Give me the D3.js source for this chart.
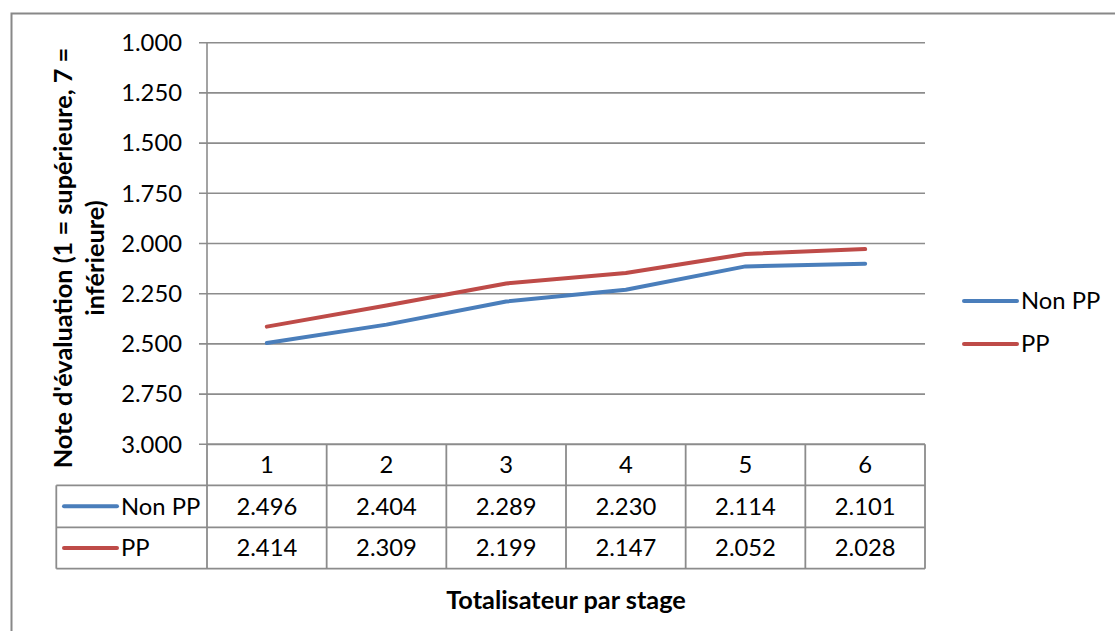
<!DOCTYPE html>
<html><head><meta charset="utf-8">
<script src="https://cdn.jsdelivr.net/npm/d3@7"></script>
<style>body{margin:0;background:#fff;}svg{display:block;font-family:Lato,"Open Sans",sans-serif;}</style>
</head><body>
<svg id="c" width="1115" height="631"></svg>
<script>
const categories = ["1","2","3","4","5","6"];
const seriesNames = ["Non PP","PP"];
const nonPP = [2.496,2.404,2.289,2.230,2.114,2.101];
const pp = [2.414,2.309,2.199,2.147,2.052,2.028];
const yTicks = [1.0,1.25,1.5,1.75,2.0,2.25,2.5,2.75,3.0];
const colors = ["#4a7ebb","#be4b48"];
const series = [nonPP, pp];

const FS = 23.8, FSB = 25.3;
const svg = d3.select("#c");
const L=207, R=925, T=42.7, B=444.3;
const grid="#8c8c8c";
// outer border
svg.append("path").attr("d","M11.5,631 L11.5,13.5 L1115,13.5").attr("fill","none").attr("stroke","#888").attr("stroke-width",2);

const x = d3.scaleBand().domain(categories).range([L,R]);
const y = d3.scaleLinear().domain([1,3]).range([T,B]);
const fmt = d3.format(".3f");

// gridlines
svg.append("g").selectAll("line").data(yTicks).join("line")
  .attr("x1",L-8).attr("x2",R).attr("y1",d=>y(d)).attr("y2",d=>y(d))
  .attr("stroke",grid).attr("stroke-width",1.6);
svg.append("line").attr("x1",L).attr("x2",L).attr("y1",T).attr("y2",B).attr("stroke",grid).attr("stroke-width",1.6);
// y tick labels
svg.append("g").selectAll("text").data(yTicks).join("text")
  .attr("x",182).attr("y",d=>y(d)).attr("dy","0.35em").attr("text-anchor","end")
  .attr("font-size",FS).attr("fill","#000").text(d=>fmt(d));

// lines
const line = d3.line().x((d,i)=>x(categories[i])+x.bandwidth()/2).y(d=>y(d));
series.forEach((s,k)=>{
  svg.append("path").datum(s).attr("d",line).attr("fill","none")
    .attr("stroke",colors[k]).attr("stroke-width",4).attr("stroke-linecap","round").attr("stroke-linejoin","round");
});

// data table
const rowY=[444.3,485.3,527.3,568.7];
const tL=56.3;
const tg=svg.append("g").attr("stroke",grid).attr("stroke-width",1.8).attr("fill","none");
tg.append("line").attr("x1",L).attr("x2",R).attr("y1",rowY[0]).attr("y2",rowY[0]);
tg.append("line").attr("x1",tL).attr("x2",R).attr("y1",rowY[1]).attr("y2",rowY[1]);
tg.append("line").attr("x1",tL).attr("x2",R).attr("y1",rowY[2]).attr("y2",rowY[2]);
tg.append("line").attr("x1",tL).attr("x2",R).attr("y1",rowY[3]).attr("y2",rowY[3]);
tg.append("line").attr("x1",tL).attr("x2",tL).attr("y1",rowY[1]).attr("y2",rowY[3]);
tg.append("line").attr("x1",L).attr("x2",L).attr("y1",rowY[0]).attr("y2",rowY[3]);
categories.forEach(c=>{
  tg.append("line").attr("x1",x(c)+x.bandwidth()).attr("x2",x(c)+x.bandwidth()).attr("y1",rowY[0]).attr("y2",rowY[3]);
});
svg.append("g").selectAll("text").data(categories).join("text")
  .attr("x",d=>x(d)+x.bandwidth()/2).attr("y",(rowY[0]+rowY[1])/2).attr("dy","0.35em")
  .attr("text-anchor","middle").attr("font-size",FS).text(d=>d);
series.forEach((s,k)=>{
  const cy=(rowY[k+1]+rowY[k+2])/2;
  svg.append("g").selectAll("text").data(s).join("text")
    .attr("x",(d,i)=>x(categories[i])+x.bandwidth()/2).attr("y",cy).attr("dy","0.35em")
    .attr("text-anchor","middle").attr("font-size",FS).text(d=>fmt(d));
  svg.append("line").attr("x1",64).attr("x2",117).attr("y1",cy).attr("y2",cy)
    .attr("stroke",colors[k]).attr("stroke-width",4).attr("stroke-linecap","round");
  svg.append("text").attr("x",121).attr("y",cy).attr("dy","0.35em").attr("font-size",FS).text(seriesNames[k]);
});

// legend
series.forEach((s,k)=>{
  const ly=[301,344][k];
  svg.append("line").attr("x1",964).attr("x2",1017).attr("y1",ly).attr("y2",ly)
    .attr("stroke",colors[k]).attr("stroke-width",4).attr("stroke-linecap","round");
  svg.append("text").attr("x",1021).attr("y",ly).attr("dy","0.35em").attr("font-size",FS).text(seriesNames[k]);
});

// axis titles
svg.append("text").attr("x",566).attr("y",600).attr("dy","0.35em").attr("text-anchor","middle")
  .attr("font-size",FSB).attr("font-weight","bold").text("Totalisateur par stage");
const yt=svg.append("text").attr("transform","translate(0,258) rotate(-90)").attr("text-anchor","middle")
  .attr("font-size",FSB).attr("font-weight","bold");
yt.append("tspan").attr("x",0).attr("y",72).text("Note d'évaluation (1 = supérieure, 7 =");
yt.append("tspan").attr("x",0).attr("y",104).text("inférieure)");
</script>
</body></html>
